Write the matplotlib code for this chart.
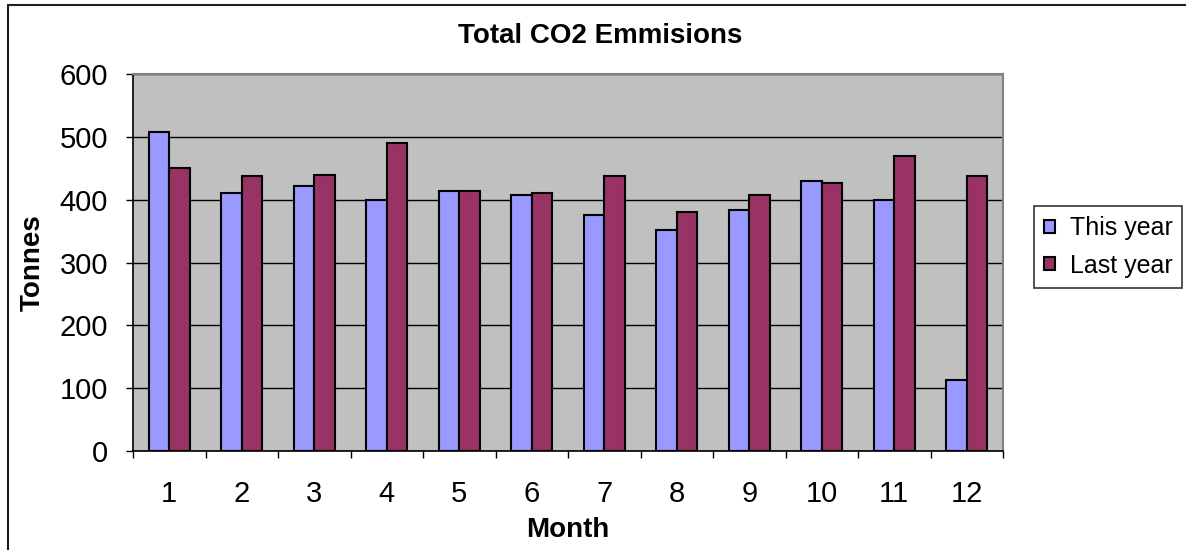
import numpy as np
import matplotlib.pyplot as plt
from matplotlib.patches import Rectangle

plt.rcParams['font.family'] = ['Liberation Sans', 'DejaVu Sans']

months = ['1', '2', '3', '4', '5', '6', '7', '8', '9', '10', '11', '12']
this_year = [507, 410, 421, 400, 413, 407, 375, 352, 384, 430, 400, 113]
last_year = [450, 437, 440, 490, 413, 410, 437, 381, 407, 427, 470, 437]
y_ticks = [0, 100, 200, 300, 400, 500, 600]

W, H = 1186, 550
fig = plt.figure(figsize=(W / 100, H / 100), dpi=100)

# outer chart border (only top and left visible in the reference)
fig.patches.append(Rectangle((8 / W, -0.1), 1.2, 1 - 5 / H + 0.1,
                             transform=fig.transFigure, fill=False,
                             edgecolor='#202020', linewidth=1.5))

ax = fig.add_axes([133 / W, (H - 451) / H, 870 / W, 377 / H])
ax.set_facecolor('#C0C0C0')

x = np.arange(len(months))
w = 0.286
ax.bar(x - w / 2, this_year, w, color='#9999FF', edgecolor='black',
       linewidth=1.5, label='This year', zorder=3)
ax.bar(x + w / 2, last_year, w, color='#993366', edgecolor='black',
       linewidth=1.5, label='Last year', zorder=3)

ax.set_xlim(-0.5, len(months) - 0.5)
ax.set_ylim(0, 600)
ax.set_yticks(y_ticks)
ax.yaxis.grid(True, color='black', linewidth=1, zorder=1)
ax.set_axisbelow(True)

ax.set_xticks(x)
ax.set_xticklabels(months)
ax.set_xticks(np.arange(len(months) + 1) - 0.5, minor=True)
ax.tick_params(axis='x', which='major', length=0, pad=21, labelsize=21)
ax.tick_params(axis='x', which='minor', length=5, width=1, direction='out')
ax.tick_params(axis='y', length=5, width=1, pad=13, labelsize=21)

for s in ['top', 'right']:
    ax.spines[s].set_color('#808080')
    ax.spines[s].set_linewidth(1.5)
for s in ['left', 'bottom']:
    ax.spines[s].set_color('black')
    ax.spines[s].set_linewidth(1.2)

fig.text(600 / W, 1 - 36 / H, 'Total CO2 Emmisions', ha='center', va='center',
         fontsize=20, fontweight='bold')
fig.text(568 / W, 1 - 530 / H, 'Month', ha='center', va='center',
         fontsize=20, fontweight='bold')
fig.text(33 / W, 1 - 263 / H, 'Tonnes', ha='center', va='center',
         rotation=90, fontsize=20, fontweight='bold')

leg = fig.legend(loc='upper left', bbox_to_anchor=(1034 / W, 1 - 206 / H),
                 frameon=True, fancybox=False, fontsize=18,
                 handlelength=0.42, handleheight=0.42, handletextpad=0.6,
                 borderpad=0.4, labelspacing=0.55, borderaxespad=0)
leg.get_frame().set_edgecolor('black')
leg.get_frame().set_linewidth(1.2)

fig.savefig('out.png', dpi=100)
